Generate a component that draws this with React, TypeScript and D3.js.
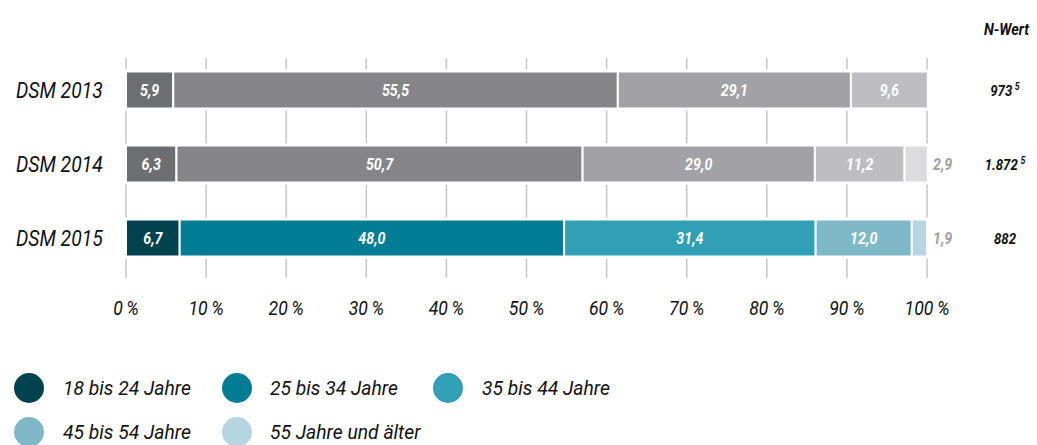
import React from 'react';
import * as d3 from 'd3';

const years = ['DSM 2013', 'DSM 2014', 'DSM 2015'];
const ageGroups = ['18 bis 24 Jahre', '25 bis 34 Jahre', '35 bis 44 Jahre', '45 bis 54 Jahre', '55 Jahre und älter'];
const values2013 = [5.9, 55.5, 29.1, 9.6, 0];
const values2014 = [6.3, 50.7, 29.0, 11.2, 2.9];
const values2015 = [6.7, 48.0, 31.4, 12.0, 1.9];
const nValues = ['973', '1.872', '882'];
const nNotes = ['5', '5', ''];
const ticks = [0, 10, 20, 30, 40, 50, 60, 70, 80, 90, 100];

const grayColors = ['#6d6e72', '#858589', '#a2a2a6', '#bebec2', '#dcdcde'];
const tealColors = ['#00434f', '#007d94', '#319fb5', '#7fb9c8', '#b5d5e0'];

const FONT = "'Roboto', sans-serif";

// Text horizontal gestaucht (schmale Schrift nachbilden)
function CText({ x, y, anchor = 'start', size, bold = false, fill = '#111', sq = 0.84, children }: any) {
    return (
        <g transform={`translate(${x},${y}) scale(${sq},1)`}>
            <text x={0} y={0} textAnchor={anchor} fontFamily={FONT} fontStyle="italic"
                fontWeight={bold ? 'bold' : 'normal'} fontSize={size} fill={fill}>{children}</text>
        </g>
    );
}

function App() {
    const width = 1037;
    const height = 445;
    const rows = [values2013, values2014, values2015];
    const palettes = [grayColors, grayColors, tealColors];

    const x = d3.scaleLinear().domain([0, 100]).range([126, 927]);
    const y = d3.scaleBand().domain(years).range([53, 275]).paddingInner(0.5).paddingOuter(0.25);
    const fmt = (v: number) => v.toFixed(1).replace('.', ',');

    const legendPos = [[29, 388, 63], [237, 388, 270], [448, 388, 482], [29, 432, 63], [237, 432, 270]];

    return (
        <svg width={width} height={height} style={{ position: 'absolute', left: 0, top: 0 }}>
            <rect width={width} height={height} fill="#ffffff" />
            {ticks.map(t => (
                <line key={t} x1={x(t)} x2={x(t)} y1={58} y2={278} stroke="#c6c6c6" strokeWidth={1.5} />
            ))}
            {ticks.map(t => (
                <CText key={'t' + t} x={x(t)} y={315} anchor="middle" size={21}>{t + '\u2009%'}</CText>
            ))}
            {rows.map((vals, ri) => {
                const stack = d3.cumsum(vals);
                const y0 = y(years[ri])!;
                const bh = y.bandwidth();
                return (
                    <g key={years[ri]}>
                        <rect x={x(0) - 1} y={y0 - 2} width={x(100) - x(0) + 2} height={bh + 4} fill="#fff" />
                        <CText x={16} y={y0 + bh / 2 + 8} size={22} sq={0.88}>{years[ri]}</CText>
                        {vals.map((v, i) => {
                            if (v <= 0) return null;
                            const start = i === 0 ? 0 : stack[i - 1];
                            const x0 = x(start);
                            const x1 = x(start + v);
                            const small = v < 5;
                            return (
                                <g key={i}>
                                    <rect x={x0} y={y0} width={x1 - x0} height={bh} fill={palettes[ri][i]}
                                        stroke="#fff" strokeWidth={2} />
                                    <CText x={small ? x(100) + 6 : (x0 + x1) / 2} y={y0 + bh / 2 + 6}
                                        anchor={small ? 'start' : 'middle'} size={17} bold
                                        fill={small ? '#a0a0a4' : '#fff'}>{fmt(v)}</CText>
                                </g>
                            );
                        })}
                        <CText x={1005} y={y0 + bh / 2 + 6} anchor="middle" size={15} bold sq={0.88}>{nValues[ri]}
                            {nNotes[ri] && <tspan dx={3} dy={-6} fontSize={10}>{nNotes[ri]}</tspan>}
                        </CText>
                    </g>
                );
            })}
            <CText x={1029} y={35} anchor="end" size={16} bold sq={0.9}>N-Wert</CText>
            {ageGroups.map((g, i) => (
                <g key={g}>
                    <circle cx={legendPos[i][0]} cy={legendPos[i][1]} r={15} fill={tealColors[i]} />
                    <CText x={legendPos[i][2]} y={legendPos[i][1] + 7} size={21} sq={0.92}>{g}</CText>
                </g>
            ))}
        </svg>
    );
}

export default App;
